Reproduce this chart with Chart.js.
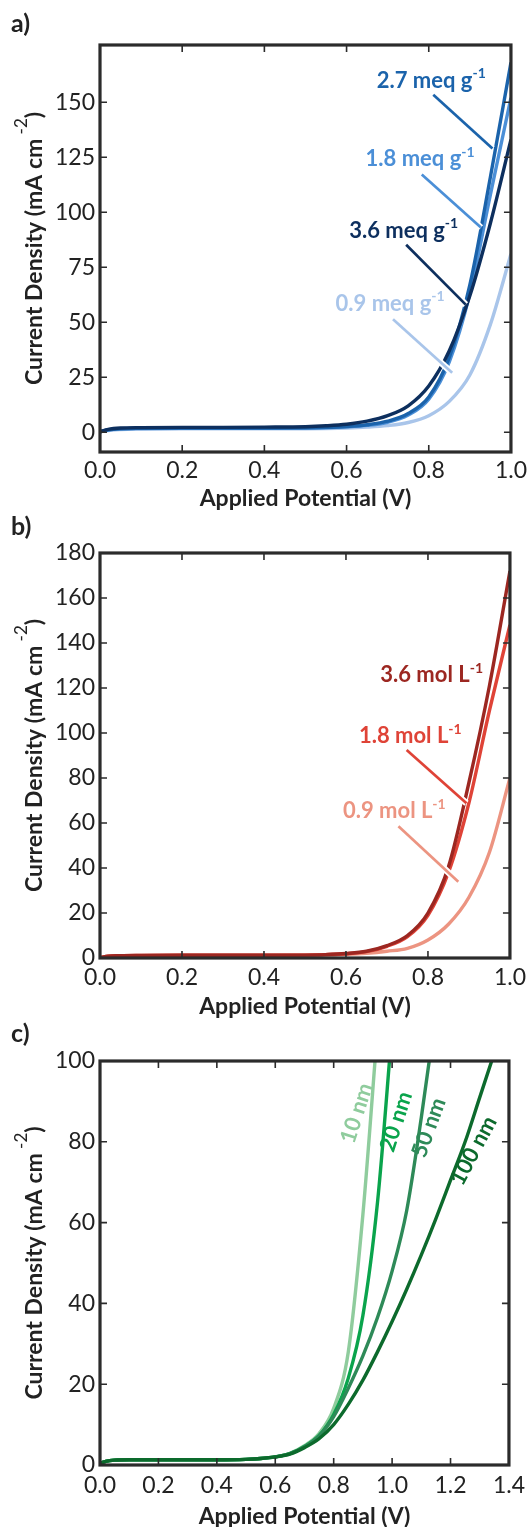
<!DOCTYPE html>
<html>
<head>
<meta charset="utf-8">
<script src="https://cdn.jsdelivr.net/npm/chart.js@4.4.1/dist/chart.umd.min.js"></script>
<style>
  html, body { margin: 0; padding: 0; background: #fff; }
  #wrap { position: relative; width: 532px; height: 1527px; overflow: hidden; }
  canvas { position: absolute; left: 0; }
</style>
</head>
<body>
<div id="wrap">
  <canvas id="panelA" width="532" height="512" style="top:0px"></canvas>
  <canvas id="panelB" width="532" height="508" style="top:512px"></canvas>
  <canvas id="panelC" width="532" height="507" style="top:1020px"></canvas>
</div>
<script>
// applied potential (V) at which the current density is sampled
const potential = [0, 0.02, 0.05, 0.1, 0.2, 0.3, 0.4, 0.5, 0.55, 0.6, 0.65, 0.7, 0.75, 0.8, 0.85, 0.9, 0.95, 1.0,
                   1.05, 1.1, 1.15, 1.2, 1.25, 1.3, 1.35, 1.4];

// a) ion exchange capacity series (mA cm-2)
const meq36 = [0.3, 1.3, 1.9, 2.1, 2.2, 2.2, 2.3, 2.5, 2.9, 3.6, 5.0, 7.5, 12, 21, 37, 62, 95, 133];
const meq27 = [0.2, 1.1, 1.6, 1.8, 1.9, 1.9, 1.9, 2.0, 2.2, 2.6, 3.4, 5.0, 8.5, 16, 34, 67, 116, 168];
const meq18 = [0.2, 1.0, 1.5, 1.7, 1.8, 1.8, 1.8, 1.9, 2.0, 2.4, 3.1, 4.5, 7.8, 15, 32, 63, 108, 152];
const meq09 = [0.1, 0.8, 1.2, 1.4, 1.5, 1.5, 1.5, 1.6, 1.7, 1.9, 2.3, 3.0, 4.4, 7.5, 14, 26, 49, 81];

// b) electrolyte concentration series
const mol36 = [0.2, 0.8, 1.0, 1.1, 1.2, 1.2, 1.2, 1.3, 1.5, 2.0, 3.0, 5.5, 10, 20, 40.5, 78, 121, 172];
const mol18 = [0.2, 0.8, 1.0, 1.1, 1.2, 1.2, 1.2, 1.3, 1.5, 1.9, 2.8, 5.2, 9.5, 19, 38, 69, 110, 148];
const mol09 = [0.2, 0.7, 0.9, 1.0, 1.1, 1.1, 1.1, 1.2, 1.3, 1.6, 2.1, 3.0, 4.3, 8.0, 15, 27, 47, 80];

// c) membrane thickness series
const nm10 = [0.4, 0.9, 1.2, 1.3, 1.3, 1.3, 1.3, 1.4, 1.6, 2.0, 2.9, 4.8, 7.8, 14, 28, 62, 108];
const nm20 = [0.4, 0.9, 1.2, 1.3, 1.3, 1.3, 1.3, 1.4, 1.6, 2.0, 2.8, 4.6, 7.3, 12.5, 21.5, 37, 65, 108];
const nm50 = [0.4, 0.9, 1.2, 1.3, 1.3, 1.3, 1.3, 1.4, 1.6, 2.0, 2.8, 4.5, 7.2, 12, 19, 27, 36.5, 48, 63, 86, 112];
const nm100 = [0.4, 0.9, 1.2, 1.3, 1.3, 1.3, 1.3, 1.4, 1.6, 2.0, 2.7, 4.3, 6.5, 10, 15, 21, 28, 35.5, 43.5, 52,
               61, 70.5, 80, 91, 102, 113];

// tick labels
const xTicksShort = [0, 0.2, 0.4, 0.6, 0.8, 1.0];
const xTicksLong = [0, 0.2, 0.4, 0.6, 0.8, 1.0, 1.2, 1.4];
const yTicksA = [0, 25, 50, 75, 100, 125, 150];
const yTicksB = [0, 20, 40, 60, 80, 100, 120, 140, 160, 180];
const yTicksC = [0, 20, 40, 60, 80, 100];

const INK = '#222222';
const FONT = 'Lato';

function unitLabel(main, sup) {
  return [
    { text: main, font: 'bold 22px ' + FONT },
    { text: sup, font: 'bold 14px ' + FONT, rise: 7 }
  ];
}

// draw a row of text runs centred on (cx, cy), optionally rotated
function drawRuns(ctx, runs, cx, cy, angle, color) {
  ctx.save();
  ctx.translate(cx, cy);
  ctx.rotate((angle || 0) * Math.PI / 180);
  ctx.textBaseline = 'middle';
  ctx.textAlign = 'left';
  ctx.fillStyle = color;
  let total = 0;
  const widths = runs.map(r => {
    ctx.font = r.font;
    const w = ctx.measureText(r.text).width;
    total += w;
    return w;
  });
  let x = -total / 2;
  runs.forEach((r, i) => {
    ctx.font = r.font;
    ctx.fillText(r.text, x, r.rise ? -r.rise : 0);
    x += widths[i];
  });
  ctx.restore();
}

const panelDecor = {
  id: 'panelDecor',
  afterDatasetsDraw(chart, args, opts) {
    const ctx = chart.ctx;
    const xs = chart.scales.x, ys = chart.scales.y;
    (opts.notes || []).forEach(n => {
      if (n.line) {
        const x0 = xs.getPixelForValue(n.line[0]), y0 = ys.getPixelForValue(n.line[1]);
        const x1 = xs.getPixelForValue(n.line[2]), y1 = ys.getPixelForValue(n.line[3]);
        ctx.save();
        ctx.beginPath();
        ctx.moveTo(x0, y0);
        ctx.lineTo(x1, y1);
        ctx.strokeStyle = '#ffffff';
        ctx.lineWidth = 6.5;
        ctx.stroke();
        ctx.strokeStyle = n.color;
        ctx.lineWidth = 2.7;
        ctx.stroke();
        ctx.restore();
      }
      const runs = n.runs || [{ text: n.text, font: 'bold 22px ' + FONT }];
      drawRuns(ctx, runs, xs.getPixelForValue(n.x), ys.getPixelForValue(n.y), n.angle, n.color);
    });
  },
  afterDraw(chart, args, opts) {
    const ctx = chart.ctx;
    const { left, top, right, bottom } = chart.chartArea;
    const xs = chart.scales.x, ys = chart.scales.y;
    ctx.save();
    // inward tick marks on all four sides
    ctx.strokeStyle = '#2b2b2b';
    ctx.lineWidth = 1.6;
    ctx.beginPath();
    xs.ticks.forEach(t => {
      const px = xs.getPixelForValue(t.value);
      if (px <= left + 2 || px >= right - 2) return;
      ctx.moveTo(px, bottom); ctx.lineTo(px, bottom - 7);
      ctx.moveTo(px, top); ctx.lineTo(px, top + 7);
    });
    ys.ticks.forEach(t => {
      const py = ys.getPixelForValue(t.value);
      if (py <= top + 2 || py >= bottom - 2) return;
      ctx.moveTo(left, py); ctx.lineTo(left + 7, py);
      ctx.moveTo(right, py); ctx.lineTo(right - 7, py);
    });
    ctx.stroke();
    // frame
    ctx.lineWidth = 3.2;
    ctx.strokeRect(left, top, right - left, bottom - top);
    ctx.restore();

    // y axis title with superscript unit
    drawRuns(ctx, [
      { text: 'Current Density (mA cm', font: 'bold 23px ' + FONT },
      { text: ' -2', font: '17px ' + FONT, rise: 13 },
      { text: ')', font: 'bold 23px ' + FONT }
    ], 35, (top + bottom) / 2, -90, INK);

    // panel letter
    ctx.save();
    ctx.font = 'bold 25px ' + FONT;
    ctx.fillStyle = INK;
    ctx.textBaseline = 'middle';
    ctx.textAlign = 'left';
    ctx.fillText(opts.letter, 11, opts.letterY);
    ctx.restore();
  }
};

function buildPanel(id, geo, spec) {
  const canvas = document.getElementById(id);
  const datasets = spec.series.map(s => ({
    label: s.name,
    data: s.values.map((v, i) => ({ x: potential[i], y: v })),
    borderColor: s.color,
    borderWidth: 3.4,
    pointRadius: 0,
    fill: false,
    cubicInterpolationMode: 'monotone',
    borderJoinStyle: 'round',
    clip: 0
  }));
  return new Chart(canvas, {
    type: 'line',
    data: { datasets },
    options: {
      responsive: false,
      animation: false,
      devicePixelRatio: 1,
      events: [],
      layout: { padding: { left: 0, right: 532 - geo.plotRight, top: geo.plotTop - geo.top, bottom: 0 } },
      plugins: {
        legend: { display: false },
        tooltip: { enabled: false },
        panelDecor: { notes: spec.notes, letter: spec.letter, letterY: spec.letterY }
      },
      scales: {
        x: {
          type: 'linear',
          min: spec.xMin,
          max: spec.xMax,
          grid: { display: false, drawTicks: false },
          border: { display: false },
          ticks: {
            font: { family: FONT, size: 23 },
            color: INK,
            padding: geo.xPad,
            maxRotation: 0,
            autoSkip: false,
            callback: v => Number(v).toFixed(1)
          },
          title: {
            display: true,
            text: 'Applied Potential (V)',
            font: { family: FONT, size: 23, weight: 'bold' },
            color: INK,
            padding: { top: 0, bottom: geo.titlePad }
          },
          afterBuildTicks: s => { s.ticks = spec.xTicks.map(v => ({ value: v })); },
          afterFit: s => { s.height = geo.top + geo.height - geo.plotBottom; }
        },
        y: {
          type: 'linear',
          min: spec.yMin,
          max: spec.yMax,
          grid: { display: false, drawTicks: false },
          border: { display: false },
          ticks: {
            font: { family: FONT, size: 23 },
            color: INK,
            padding: 5,
            autoSkip: false,
            callback: v => String(v)
          },
          afterBuildTicks: s => { s.ticks = spec.yTicks.map(v => ({ value: v })); },
          afterFit: s => { s.width = geo.plotLeft; }
        }
      }
    },
    plugins: [panelDecor]
  });
}

const blue = { m36: '#0d2f5e', m27: '#1b63ab', m18: '#4b8fd7', m09: '#a9c5ea' };
const red = { m36: '#9c2721', m18: '#df4337', m09: '#ec9481' };
const green = { n10: '#8fcc9d', n20: '#0aa44c', n50: '#2e8a58', n100: '#0c6a2c' };

buildPanel('panelA',
  { top: 0, height: 512, plotTop: 45, plotBottom: 452, plotLeft: 100, plotRight: 513, xPad: 5, titlePad: 0 },
  {
    letter: 'a)', letterY: 24,
    xMin: 0, xMax: 1.0, yMin: -9, yMax: 176, xTicks: xTicksShort, yTicks: yTicksA,
    series: [
      { name: '3.6 meq g-1', values: meq36, color: blue.m36 },
      { name: '2.7 meq g-1', values: meq27, color: blue.m27 },
      { name: '1.8 meq g-1', values: meq18, color: blue.m18 },
      { name: '0.9 meq g-1', values: meq09, color: blue.m09 }
    ],
    notes: [
      { runs: unitLabel('2.7 meq g', '-1'), color: blue.m27, x: 0.806, y: 159.8, line: [0.811, 153.4, 0.955, 128.9] },
      { runs: unitLabel('1.8 meq g', '-1'), color: blue.m18, x: 0.779, y: 124.1, line: [0.783, 117.1, 0.927, 93] },
      { runs: unitLabel('3.6 meq g', '-1'), color: blue.m36, x: 0.739, y: 91.7, line: [0.745, 85.2, 0.890, 58] },
      { runs: unitLabel('0.9 meq g', '-1'), color: blue.m09, x: 0.706, y: 58.4, line: [0.713, 51.3, 0.857, 27] }
    ]
  });

buildPanel('panelB',
  { top: 512, height: 508, plotTop: 553, plotBottom: 958, plotLeft: 100, plotRight: 513, xPad: 6, titlePad: 0 },
  {
    letter: 'b)', letterY: 15,
    xMin: 0, xMax: 1.0, yMin: 0, yMax: 180, xTicks: xTicksShort, yTicks: yTicksB,
    series: [
      { name: '3.6 mol L-1', values: mol36, color: red.m36 },
      { name: '1.8 mol L-1', values: mol18, color: red.m18 },
      { name: '0.9 mol L-1', values: mol09, color: red.m09 }
    ],
    notes: [
      { runs: unitLabel('3.6 mol L', '-1'), color: red.m36, x: 0.809, y: 125.7 },
      { runs: unitLabel('1.8 mol L', '-1'), color: red.m18, x: 0.757, y: 98.6, line: [0.748, 92.4, 0.894, 68.8] },
      { runs: unitLabel('0.9 mol L', '-1'), color: red.m09, x: 0.718, y: 65.3, line: [0.728, 58.6, 0.874, 33.9] }
    ]
  });

buildPanel('panelC',
  { top: 1020, height: 507, plotTop: 1061, plotBottom: 1465, plotLeft: 100, plotRight: 513, xPad: 7, titlePad: -3 },
  {
    letter: 'c)', letterY: 14,
    xMin: 0, xMax: 1.4, yMin: 0, yMax: 100, xTicks: xTicksLong, yTicks: yTicksC,
    series: [
      { name: '100 nm', values: nm100, color: green.n100 },
      { name: '50 nm', values: nm50, color: green.n50 },
      { name: '20 nm', values: nm20, color: green.n20 },
      { name: '10 nm', values: nm10, color: green.n10 }
    ],
    notes: [
      { text: '10 nm', color: green.n10, x: 0.879, y: 87.1, angle: -72 },
      { text: '20 nm', color: green.n20, x: 1.014, y: 85, angle: -72 },
      { text: '50 nm', color: green.n50, x: 1.126, y: 83.5, angle: -70 },
      { text: '100 nm', color: green.n100, x: 1.279, y: 77.8, angle: -62 }
    ]
  });
</script>
</body>
</html>
